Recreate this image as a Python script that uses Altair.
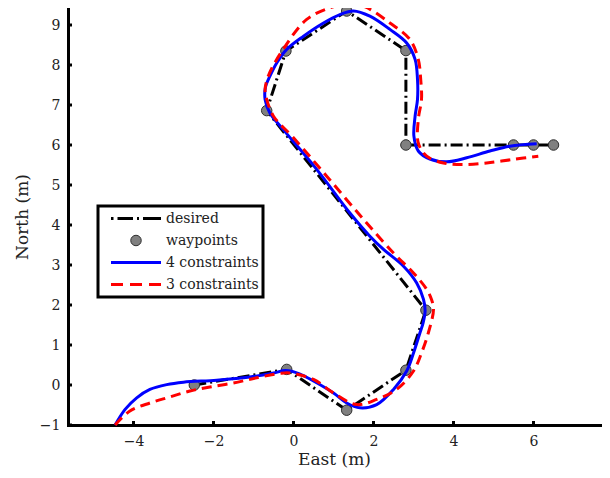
import altair as alt
import pandas as pd

# ---------------- data ----------------
series_names = ["desired", "waypoints", "4 constraints", "3 constraints"]

# waypoints (the desired path runs through them in this order)
way_x = [-2.48, -0.17, 1.33, 2.81, 3.31, -0.67, -0.19, 1.33, 2.81, 2.81, 5.50, 6.00, 6.50]
way_y = [0.00, 0.39, -0.63, 0.37, 1.87, 6.86, 8.35, 9.35, 8.36, 6.00, 6.00, 6.00, 6.00]

# trajectory with 4 constraints (blue)
blue_x = [-4.46, -4.21, -3.92, -3.59, -3.17, -2.75, -1.92, -1.09, -0.50, -0.20, 0.15, 0.50,
          1.00, 1.33, 1.66, 2.08, 2.50, 2.83, 3.00, 3.16, 3.24, 3.29, 3.25, 3.08, 2.75,
          2.25, 1.91, 1.41, 0.58, -0.26, -0.59, -0.71, -0.70, -0.59, -0.42, -0.17, 0.25,
          0.75, 1.16, 1.50, 1.91, 2.41, 2.83, 3.04, 3.10, 3.10, 3.04, 3.01, 3.12, 3.41,
          3.83, 4.33, 4.91, 5.41, 6.08]
blue_y = [-1.00, -0.61, -0.32, -0.11, 0.01, 0.07, 0.12, 0.20, 0.30, 0.36, 0.28, 0.10,
          -0.20, -0.45, -0.57, -0.49, -0.11, 0.35, 0.80, 1.30, 1.55, 1.85, 2.14, 2.55, 2.97,
          3.39, 3.72, 4.30, 5.39, 6.39, 6.80, 7.14, 7.45, 7.72, 8.05, 8.39, 8.72,
          9.05, 9.26, 9.35, 9.22, 8.89, 8.55, 8.14, 7.64, 7.14, 6.72, 6.22, 5.85, 5.65,
          5.58, 5.68, 5.85, 5.97, 6.03]

# trajectory with 3 constraints (red)
red_x = [-4.46, -4.09, -3.59, -3.09, -2.59, -2.09, -1.50, -0.92, -0.34, -0.09, 0.50, 1.00,
         1.58, 2.08, 2.58, 3.00, 3.20, 3.37, 3.50, 3.45, 3.33, 3.00, 2.50, 1.75, 0.83,
         0.00, -0.50, -0.67, -0.71, -0.62, -0.26, 0.33, 0.91, 1.33, 1.75, 2.41, 2.91,
         3.12, 3.18, 3.20, 3.12, 3.12, 3.33, 3.75, 4.25, 4.83, 5.50, 6.12]
red_y = [-1.00, -0.65, -0.45, -0.30, -0.15, -0.05, 0.05, 0.18, 0.29, 0.30, 0.14, -0.20,
         -0.49, -0.36, -0.11, 0.35, 0.80, 1.30, 1.89, 2.14, 2.39, 2.80, 3.30, 4.14, 5.22,
         6.18, 6.72, 7.14, 7.39, 7.75, 8.39, 9.14, 9.43, 9.51, 9.47, 9.05, 8.64,
         8.14, 7.64, 7.14, 6.64, 6.05, 5.72, 5.55, 5.51, 5.55, 5.64, 5.72]

x_ticks = [-4, -2, 0, 2, 4, 6]
y_ticks = [-1, 0, 1, 2, 3, 4, 5, 6, 7, 8, 9]

# ---------------- tables ----------------
def frame(xs, ys, name):
    return pd.DataFrame({"x": xs, "y": ys, "i": list(range(len(xs))), "series": name})

desired_df = frame(way_x, way_y, "desired")
way_df = frame(way_x, way_y, "waypoints")
blue_df = frame(blue_x, blue_y, "4 constraints")
red_df = frame(red_x, red_y, "3 constraints")
xt_df = pd.DataFrame({"x": x_ticks})
yt_df = pd.DataFrame({"y": y_ticks})

W, H = 532, 417
x_scale = alt.Scale(domain=[-5.6375, 7.6625], nice=False, zero=False)
y_scale = alt.Scale(domain=[-1.0, 9.425], nice=False, zero=False)

x_enc = alt.X("x:Q", scale=x_scale,
              axis=alt.Axis(values=x_ticks, title="East (m)", labelPadding=9, titlePadding=3))
y_enc = alt.Y("y:Q", scale=y_scale,
              axis=alt.Axis(values=y_ticks, title="North (m)", labelPadding=8, titlePadding=8))

# legend symbols (unit paths, scaled by sqrt(size)/2 = 25 px), shifted right by 0.34
sym_desired = ("M-0.66,-0.06H-0.56V0.06H-0.66Z M-0.40,-0.06H0.22V0.06H-0.40Z "
               "M0.38,-0.06H0.46V0.06H0.38Z M0.62,-0.06H1.34V0.06H0.62Z")
sym_way = "M0.13,0A0.21,0.21,0,1,0,0.55,0A0.21,0.21,0,1,0,0.13,0Z"
sym_blue = "M-0.66,-0.06H1.34V0.06H-0.66Z"
sym_red = ("M-0.66,-0.06H-0.18V0.06H-0.66Z M0.10,-0.06H0.58V0.06H0.10Z "
           "M0.86,-0.06H1.34V0.06H0.86Z")
sym_way_plot = "M-0.21,0A0.21,0.21,0,1,0,0.21,0A0.21,0.21,0,1,0,-0.21,0Z"

legend = alt.Legend(title=None, orient="none", legendX=30, legendY=198,
                    fillColor="white", strokeColor="black", padding=4,
                    symbolSize=2500, clipHeight=17, rowPadding=5, labelOffset=13,
                    labelFont="DejaVu Serif", labelFontSize=14, labelColor="#222",
                    symbolStrokeWidth=1, cornerRadius=0)

fill_enc = alt.Fill("series:N", legend=legend,
                    scale=alt.Scale(domain=series_names,
                                    range=["black", "#808080", "#0000ff", "#ff0000"]))
stroke_enc = alt.Stroke("series:N", legend=legend,
                        scale=alt.Scale(domain=series_names,
                                        range=["transparent", "#303030", "transparent", "transparent"]))
shape_enc = alt.Shape("series:N", legend=legend,
                      scale=alt.Scale(domain=series_names,
                                      range=[sym_desired, sym_way, sym_blue, sym_red]))

desired = alt.Chart(desired_df).mark_line(color="black", strokeWidth=3, strokeDash=[12, 4, 2, 4]).encode(
    x=x_enc, y=y_enc, order="i:Q")
# legend-carrying layer: no rows drawn, its scales have explicit domains
legend_layer = alt.Chart(way_df).mark_point(filled=True, size=2500, opacity=1, strokeWidth=1).encode(
    x=x_enc, y=y_enc, fill=fill_enc, stroke=stroke_enc, shape=shape_enc
).transform_filter("false")
points = alt.Chart(way_df).mark_point(filled=True, size=2500, opacity=1, strokeWidth=1,
                                      shape=sym_way_plot, fill="#808080", stroke="#303030").encode(
    x=x_enc, y=y_enc)
blue = alt.Chart(blue_df).mark_line(color="#0000ff", strokeWidth=3, interpolate="catmull-rom").encode(
    x=x_enc, y=y_enc, order="i:Q")
red = alt.Chart(red_df).mark_line(color="#ff0000", strokeWidth=3, strokeDash=[10, 6],
                                  interpolate="catmull-rom").encode(
    x=x_enc, y=y_enc, order="i:Q")

xticks = alt.Chart(xt_df).mark_rule(color="black", strokeWidth=3).encode(
    x=x_enc, y=alt.value(H), y2=alt.value(H - 4))
yticks = alt.Chart(yt_df).mark_rule(color="black", strokeWidth=3).encode(
    y=y_enc, x=alt.value(0), x2=alt.value(4))

chart = alt.layer(desired, legend_layer, points, blue, red, xticks, yticks).properties(
    width=W, height=H,
    autosize=alt.AutoSizeParams(type="none"),
    padding={"left": 60, "top": 0, "right": 2, "bottom": 45},
).configure_axis(
    labelFont="DejaVu Serif", labelFontSize=14, labelColor="#222",
    titleFont="DejaVu Serif", titleFontSize=17, titleColor="#222", titleFontWeight="normal",
    domainColor="black", domainWidth=3, domainCap="square", ticks=False, grid=False,
).configure_view(strokeWidth=0).configure_legend(strokeWidth=3)

chart.save("out.html", embed_options={"renderer": "svg", "actions": False})
